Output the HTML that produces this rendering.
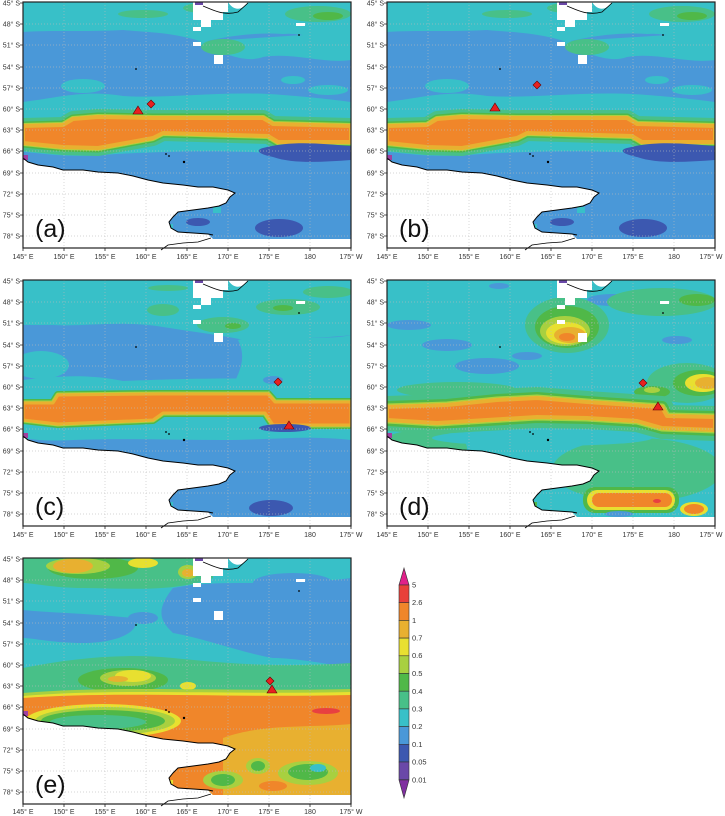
<!DOCTYPE html>
<html><head><meta charset="utf-8"><style>
html,body{margin:0;padding:0;background:#fff;}
svg{display:block;font-family:"Liberation Sans",sans-serif;}
.lat{font-size:7px;fill:#333;text-anchor:end;}
.lon{font-size:7px;fill:#333;text-anchor:middle;}
.let{font-size:25px;fill:#111;}
.cb{font-size:7.5px;fill:#333;}
</style></head><body>
<svg width="725" height="816" viewBox="0 0 725 816" xmlns="http://www.w3.org/2000/svg">
<defs>
<clipPath id="sea"><path d="M0,0 H328 V237 H190 L185,232 L170,231 L155,230 L148,226 L146,220 L150,215 L155,210 L170,208 L185,206 L196,204 L203,201 L207,195 L212,191 L205,188 L190,185 L175,185 L160,183 L140,181 L125,178 L110,174 L95,171 L75,170 L60,168 L40,168 L30,165 L15,163 L5,160 L0,156 Z"/></clipPath>
<polygon id="bandA" points="0,124 40,123 50,117 75,115 130,116 240,116 250,122 328,124 328,140 255,140 245,134 140,131 130,136 75,146 40,145 0,141"/>
<polygon id="bandC" points="0,123 30,123 35,115 135,114 245,114 252,122 328,122 328,145 250,145 242,133 140,133 130,140 35,144 0,140"/>
<polygon id="bandD" points="0,127 60,125 110,120 150,118 200,122 245,125 275,127 280,136 328,137 328,150 275,148 250,141 200,138 150,137 100,140 50,143 0,140"/>
<g id="grid" stroke="#bbb" stroke-width="0.7" stroke-dasharray="1,2" opacity="0.8">
<path d="M41,0V246M82,0V246M123,0V246M164,0V246M205,0V246M246,0V246M287,0V246M0,22H328M0,43H328M0,65H328M0,86H328M0,107H328M0,128H328M0,149H328M0,171H328M0,192H328M0,213H328M0,234H328"/>
</g>
<g id="over">
<path d="M170,0 H205 C210,8 218,10 225,0 H220 Z M170,0 V18 H178 V25 H188 V18 H200 V10 H205 V0 Z" fill="#fff"/>
<path d="M172,0 h8 v3 h-8z" fill="#6a48a8"/>
<rect x="170" y="25" width="8" height="4" fill="#fff"/>
<rect x="170" y="40" width="8" height="4" fill="#fff"/>
<rect x="191" y="53" width="9" height="9" fill="#fff"/>
<rect x="273" y="21" width="9" height="3" fill="#fff"/>
<rect x="0" y="153" width="5" height="5" fill="#a040a0"/>
<path d="M180,4 C190,8 200,14 215,10 L225,1" fill="none" stroke="#000" stroke-width="0.8"/>
<polyline fill="none" stroke="#000" stroke-width="1" points="0,156 5,160 15,163 30,165 40,168 60,168 75,170 95,171 110,174 125,178 140,181 160,183 175,185 190,185 205,188 212,191 207,195 203,201 196,204 185,206 170,208 155,210 150,215 146,220 148,226 155,230 170,231 185,232 190,233"/>
<polyline fill="none" stroke="#000" stroke-width="0.8" points="138,248 145,243 160,241 175,240 188,236"/>
<circle cx="113" cy="67" r="0.9" fill="#000"/><circle cx="276" cy="33" r="0.9" fill="#000"/>
<circle cx="143" cy="152" r="0.9" fill="#000"/><circle cx="146" cy="154" r="0.9" fill="#000"/><circle cx="161" cy="160" r="1.2" fill="#000"/>
<rect x="0" y="0" width="328" height="246" fill="none" stroke="#222" stroke-width="1.2"/>
<path d="M0,246v3M41,246v3M82,246v3M123,246v3M164,246v3M205,246v3M246,246v3M287,246v3M328,246v3M0,1h-3M0,22h-3M0,43h-3M0,65h-3M0,86h-3M0,107h-3M0,128h-3M0,149h-3M0,171h-3M0,192h-3M0,213h-3M0,234h-3" stroke="#222" stroke-width="0.8"/>
</g>
<g id="fieldAB">
<rect width="328" height="246" fill="#4a98d8"/>
<path d="M0,0 H328 V35 C300,40 280,30 260,32 C230,30 200,35 180,40 C150,30 120,30 100,28 C60,30 30,28 0,30 Z" fill="#38c0c8"/>
<path d="M170,40 C200,50 220,62 240,55 C270,50 300,62 328,58 V30 Z" fill="#38c0c8"/>
<ellipse cx="180" cy="6" rx="20" ry="5" fill="#48c088"/>
<ellipse cx="295" cy="12" rx="33" ry="8" fill="#48c088"/>
<ellipse cx="305" cy="14" rx="15" ry="4" fill="#50b848"/>
<ellipse cx="200" cy="45" rx="22" ry="8" fill="#48c088"/>
<ellipse cx="120" cy="12" rx="25" ry="4" fill="#48c088"/>
<ellipse cx="60" cy="84" rx="22" ry="7" fill="#38c0c8"/>
<ellipse cx="270" cy="78" rx="12" ry="4" fill="#38c0c8"/>
<ellipse cx="305" cy="88" rx="20" ry="5" fill="#38c0c8"/>
<path d="M0,100 C40,95 60,88 100,94 C150,97 200,88 260,93 C300,96 328,100 328,100 V155 C300,160 260,152 230,150 C180,148 120,150 80,153 C40,156 10,150 0,150 Z" fill="#38c0c8"/>
<use href="#bandA" fill="#48c088" stroke="#48c088" stroke-width="16" stroke-linejoin="round"/>
<use href="#bandA" fill="#50b848" stroke="#50b848" stroke-width="9" stroke-linejoin="round"/>
<use href="#bandA" fill="#a8d040" stroke="#a8d040" stroke-width="6" stroke-linejoin="round"/>
<use href="#bandA" fill="#e8e030" stroke="#e8e030" stroke-width="4" stroke-linejoin="round"/>
<use href="#bandA" fill="#f0862a" stroke="#e8b030" stroke-width="4" stroke-linejoin="round"/>
<path d="M240,146 C270,138 300,142 328,144 V158 C300,160 270,162 250,155 C235,152 232,148 240,146 Z" fill="#3c58b0"/>
<ellipse cx="256" cy="226" rx="24" ry="9" fill="#3c58b0"/>
<ellipse cx="175" cy="220" rx="12" ry="4" fill="#3c58b0"/>
<rect x="140" y="222" width="10" height="12" fill="#38c0c8"/>
<rect x="190" y="205" width="8" height="6" fill="#38c0c8"/>
</g>
<g id="latlon">
<text class="lat" x="-3" y="3.5">45° S</text><text class="lat" x="-3" y="24.5">48° S</text><text class="lat" x="-3" y="45.5">51° S</text><text class="lat" x="-3" y="67.5">54° S</text><text class="lat" x="-3" y="88.5">57° S</text><text class="lat" x="-3" y="109.5">60° S</text><text class="lat" x="-3" y="130.5">63° S</text><text class="lat" x="-3" y="151.5">66° S</text><text class="lat" x="-3" y="173.5">69° S</text><text class="lat" x="-3" y="194.5">72° S</text><text class="lat" x="-3" y="215.5">75° S</text><text class="lat" x="-3" y="236.5">78° S</text>
</g>
</defs>

<!-- Panel a -->
<g transform="translate(23,2)">
<rect width="328" height="246" fill="#fff"/>
<g clip-path="url(#sea)"><use href="#fieldAB"/></g>
<use href="#grid"/><use href="#over"/>
<polygon points="128,98 132,102 128,106 124,102" fill="#e82020" stroke="#600" stroke-width="0.6"/>
<polygon points="115,104 120,112 110,112" fill="#e82020" stroke="#600" stroke-width="0.6"/>
<text class="let" x="12" y="235">(a)</text>
</g>
<!-- Panel b -->
<g transform="translate(387,2)">
<rect width="328" height="246" fill="#fff"/>
<g clip-path="url(#sea)"><use href="#fieldAB"/></g>
<use href="#grid"/><use href="#over"/>
<polygon points="150,79 154,83 150,87 146,83" fill="#e82020" stroke="#600" stroke-width="0.6"/>
<polygon points="108,101 113,109 103,109" fill="#e82020" stroke="#600" stroke-width="0.6"/>
<text class="let" x="12" y="235">(b)</text>
</g>
<!-- Panel c -->
<g transform="translate(23,280)">
<rect width="328" height="246" fill="#fff"/>
<g clip-path="url(#sea)">
<rect width="328" height="246" fill="#4a98d8"/>
<path d="M0,0 H328 V55 C290,60 260,55 230,62 C200,55 170,52 140,47 C100,40 60,47 30,45 C15,45 0,45 0,45 Z" fill="#38c0c8"/>
<path d="M215,60 C240,52 300,62 328,55 V115 H205 C215,95 225,80 215,60 Z" fill="#38c0c8"/>
<ellipse cx="18" cy="85" rx="28" ry="14" fill="#38c0c8"/>
<path d="M0,100 C30,97 60,93 100,101 C150,99 200,97 328,100 V160 C280,155 250,160 200,160 C150,160 100,158 50,160 C20,162 0,158 0,158 Z" fill="#38c0c8"/>
<ellipse cx="140" cy="30" rx="16" ry="6" fill="#48c088"/>
<ellipse cx="200" cy="45" rx="26" ry="8" fill="#48c088"/>
<ellipse cx="210" cy="46" rx="8" ry="3" fill="#50b848"/>
<ellipse cx="265" cy="27" rx="32" ry="8" fill="#48c088"/>
<ellipse cx="260" cy="28" rx="10" ry="3" fill="#50b848"/>
<ellipse cx="305" cy="12" rx="25" ry="6" fill="#48c088"/>
<ellipse cx="145" cy="8" rx="20" ry="3" fill="#48c088"/>
<ellipse cx="250" cy="100" rx="10" ry="4" fill="#4a98d8"/>
<use href="#bandC" fill="#50b848" stroke="#50b848" stroke-width="8" stroke-linejoin="round"/>
<use href="#bandC" fill="#a8d040" stroke="#a8d040" stroke-width="5" stroke-linejoin="round"/>
<use href="#bandC" fill="#e8e030" stroke="#e8e030" stroke-width="3" stroke-linejoin="round"/>
<use href="#bandC" fill="#f0862a" stroke="#e8b030" stroke-width="3" stroke-linejoin="round"/>
<ellipse cx="262" cy="148" rx="26" ry="4" fill="#3c58b0"/>
<ellipse cx="248" cy="228" rx="22" ry="8" fill="#3c58b0"/>
<rect x="140" y="222" width="10" height="12" fill="#38c0c8"/>
</g>
<use href="#grid"/><use href="#over"/>
<polygon points="255,98 259,102 255,106 251,102" fill="#e82020" stroke="#600" stroke-width="0.6"/>
<polygon points="266,141 271,149 261,149" fill="#e82020" stroke="#600" stroke-width="0.6"/>
<text class="let" x="12" y="235">(c)</text>
</g>
<!-- Panel d -->
<g transform="translate(387,280)">
<rect width="328" height="246" fill="#fff"/>
<g clip-path="url(#sea)">
<rect width="328" height="246" fill="#38c0c8"/>
<ellipse cx="60" cy="65" rx="25" ry="6" fill="#4a98d8"/>
<ellipse cx="100" cy="86" rx="32" ry="8" fill="#4a98d8"/>
<ellipse cx="225" cy="20" rx="25" ry="6" fill="#4a98d8"/>
<ellipse cx="22" cy="45" rx="22" ry="5" fill="#4a98d8"/>
<ellipse cx="140" cy="76" rx="15" ry="4" fill="#4a98d8"/>
<ellipse cx="290" cy="60" rx="15" ry="4" fill="#4a98d8"/>
<ellipse cx="112" cy="6" rx="10" ry="3" fill="#4a98d8"/>
<ellipse cx="275" cy="22" rx="55" ry="14" fill="#48c088"/>
<ellipse cx="310" cy="20" rx="18" ry="6" fill="#50b848"/>
<ellipse cx="250" cy="190" rx="85" ry="32" fill="#48c088"/>
<ellipse cx="35" cy="168" rx="45" ry="18" fill="#48c088"/>
<ellipse cx="70" cy="110" rx="60" ry="8" fill="#48c088"/>
<ellipse cx="180" cy="45" rx="42" ry="28" fill="#48c088"/>
<ellipse cx="180" cy="47" rx="32" ry="21" fill="#50b848"/>
<ellipse cx="178" cy="51" rx="25" ry="15" fill="#a8d040"/>
<ellipse cx="179" cy="53" rx="20" ry="11" fill="#e8e030"/>
<ellipse cx="183" cy="55" rx="16" ry="8" fill="#e8b030"/>
<ellipse cx="180" cy="57" rx="8" ry="4" fill="#f0862a"/>
<ellipse cx="300" cy="103" rx="40" ry="20" fill="#48c088"/>
<ellipse cx="312" cy="103" rx="26" ry="13" fill="#50b848"/>
<ellipse cx="316" cy="103" rx="18" ry="9" fill="#e8e030"/>
<ellipse cx="320" cy="103" rx="12" ry="6" fill="#e8b030"/>
<ellipse cx="265" cy="112" rx="18" ry="6" fill="#50b848"/>
<ellipse cx="265" cy="110" rx="8" ry="3" fill="#a8d040"/>
<ellipse cx="70" cy="118" rx="15" ry="3" fill="#e8e030"/>
<use href="#bandD" fill="#48c088" stroke="#48c088" stroke-width="22" stroke-linejoin="round"/>
<use href="#bandD" fill="#50b848" stroke="#50b848" stroke-width="12" stroke-linejoin="round"/>
<use href="#bandD" fill="#a8d040" stroke="#a8d040" stroke-width="7" stroke-linejoin="round"/>
<use href="#bandD" fill="#e8e030" stroke="#e8e030" stroke-width="4" stroke-linejoin="round"/>
<use href="#bandD" fill="#f0862a" stroke="#e8b030" stroke-width="4" stroke-linejoin="round"/>
<ellipse cx="155" cy="158" rx="110" ry="8" fill="#38c0c8"/>
<rect x="196" y="207" width="96" height="26" rx="12" fill="#50b848"/>
<rect x="200" y="210" width="88" height="20" rx="10" fill="#e8e030"/>
<rect x="205" y="213" width="80" height="14" rx="7" fill="#f0862a"/>
<ellipse cx="270" cy="221" rx="4" ry="2" fill="#e84040"/>
<ellipse cx="307" cy="229" rx="14" ry="7" fill="#e8e030"/>
<ellipse cx="307" cy="229" rx="10" ry="5" fill="#f0862a"/>
<ellipse cx="232" cy="234" rx="14" ry="3" fill="#4a98d8"/>
<rect x="140" y="222" width="10" height="12" fill="#50b848"/>
</g>
<use href="#grid"/><use href="#over"/>
<polygon points="256,99 260,103 256,107 252,103" fill="#e82020" stroke="#600" stroke-width="0.6"/>
<polygon points="271,122 276,130 266,130" fill="#e82020" stroke="#600" stroke-width="0.6"/>
<text class="let" x="12" y="235">(d)</text>
</g>
<!-- Panel e -->
<g transform="translate(23,558)">
<rect width="328" height="246" fill="#fff"/>
<g clip-path="url(#sea)">
<rect width="328" height="246" fill="#38c0c8"/>
<path d="M150,30 C200,20 250,30 328,20 V110 C300,105 270,100 250,100 C220,95 180,80 150,75 C140,65 130,55 150,30 Z" fill="#4a98d8"/>
<ellipse cx="270" cy="25" rx="40" ry="10" fill="#4a98d8"/>
<path d="M0,52 C30,55 60,55 110,60 C120,70 100,85 60,85 C30,85 10,80 0,80 Z" fill="#4a98d8"/>
<ellipse cx="120" cy="60" rx="15" ry="6" fill="#4a98d8"/>
<path d="M0,0 H190 V20 C150,35 100,30 60,30 C30,30 10,25 0,25 Z" fill="#48c088"/>
<ellipse cx="70" cy="10" rx="45" ry="11" fill="#50b848"/>
<ellipse cx="55" cy="8" rx="32" ry="8" fill="#a8d040"/>
<ellipse cx="50" cy="8" rx="20" ry="7" fill="#e8b030"/>
<ellipse cx="120" cy="5" rx="15" ry="5" fill="#e8e030"/>
<ellipse cx="165" cy="14" rx="10" ry="7" fill="#a8d040"/>
<ellipse cx="165" cy="15" rx="6" ry="4" fill="#e8b030"/>
<path d="M0,110 C50,100 100,95 150,100 C200,105 250,110 328,105 V145 H0 Z" fill="#48c088"/>
<ellipse cx="100" cy="122" rx="45" ry="12" fill="#50b848"/>
<ellipse cx="105" cy="120" rx="28" ry="8" fill="#a8d040"/>
<ellipse cx="110" cy="118" rx="18" ry="6" fill="#e8e030"/>
<ellipse cx="95" cy="121" rx="10" ry="3" fill="#e8b030"/>
<ellipse cx="165" cy="128" rx="8" ry="4" fill="#e8e030"/>
<path d="M0,135 C100,127 200,134 328,131 V237 H0 Z" fill="#a8d040"/>
<path d="M0,138 C100,130 200,137 328,134 V237 H0 Z" fill="#e8e030"/>
<path d="M0,140 C100,133 200,140 328,137 V237 H0 Z" fill="#f0862a"/>
<path d="M200,180 C240,165 290,170 328,166 V237 H200 Z" fill="#e8b030"/>
<ellipse cx="80" cy="163" rx="78" ry="17" fill="#e8e030"/>
<ellipse cx="82" cy="163" rx="70" ry="14" fill="#a8d040"/>
<ellipse cx="80" cy="163" rx="62" ry="11" fill="#50b848"/>
<ellipse cx="75" cy="164" rx="48" ry="7" fill="#48c088"/>
<ellipse cx="303" cy="153" rx="14" ry="3" fill="#e84040"/>
<ellipse cx="235" cy="208" rx="12" ry="8" fill="#a8d040"/>
<ellipse cx="235" cy="208" rx="7" ry="5" fill="#50b848"/>
<ellipse cx="200" cy="222" rx="20" ry="9" fill="#a8d040"/>
<ellipse cx="200" cy="222" rx="12" ry="6" fill="#50b848"/>
<ellipse cx="285" cy="215" rx="30" ry="12" fill="#a8d040"/>
<ellipse cx="285" cy="214" rx="20" ry="8" fill="#50b848"/>
<ellipse cx="295" cy="210" rx="8" ry="4" fill="#38c0c8"/>
<ellipse cx="250" cy="228" rx="14" ry="5" fill="#f0862a"/>
<rect x="140" y="222" width="10" height="12" fill="#e8e030"/>
</g>
<use href="#grid"/><use href="#over"/>
<polygon points="247,119 251,123 247,127 243,123" fill="#e82020" stroke="#600" stroke-width="0.6"/>
<polygon points="249,127 254,135 244,135" fill="#e82020" stroke="#600" stroke-width="0.6"/>
<text class="let" x="12" y="235">(e)</text>
</g>

<!-- Labels for all panels -->
<g transform="translate(23,2)">
<text class="lat" x="-3" y="3.5">45° S</text><text class="lat" x="-3" y="24.5">48° S</text><text class="lat" x="-3" y="45.5">51° S</text><text class="lat" x="-3" y="67.5">54° S</text><text class="lat" x="-3" y="88.5">57° S</text><text class="lat" x="-3" y="109.5">60° S</text><text class="lat" x="-3" y="130.5">63° S</text><text class="lat" x="-3" y="151.5">66° S</text><text class="lat" x="-3" y="173.5">69° S</text><text class="lat" x="-3" y="194.5">72° S</text><text class="lat" x="-3" y="215.5">75° S</text><text class="lat" x="-3" y="236.5">78° S</text>
<text class="lon" x="0" y="257">145° E</text><text class="lon" x="41" y="257">150° E</text><text class="lon" x="82" y="257">155° E</text><text class="lon" x="123" y="257">160° E</text><text class="lon" x="164" y="257">165° E</text><text class="lon" x="205" y="257">170° E</text><text class="lon" x="246" y="257">175° E</text><text class="lon" x="287" y="257">180</text><text class="lon" x="328" y="257">175° W</text>
</g>
<g transform="translate(387,2)">
<text class="lat" x="-3" y="3.5">45° S</text><text class="lat" x="-3" y="24.5">48° S</text><text class="lat" x="-3" y="45.5">51° S</text><text class="lat" x="-3" y="67.5">54° S</text><text class="lat" x="-3" y="88.5">57° S</text><text class="lat" x="-3" y="109.5">60° S</text><text class="lat" x="-3" y="130.5">63° S</text><text class="lat" x="-3" y="151.5">66° S</text><text class="lat" x="-3" y="173.5">69° S</text><text class="lat" x="-3" y="194.5">72° S</text><text class="lat" x="-3" y="215.5">75° S</text><text class="lat" x="-3" y="236.5">78° S</text>
<text class="lon" x="0" y="257">145° E</text><text class="lon" x="41" y="257">150° E</text><text class="lon" x="82" y="257">155° E</text><text class="lon" x="123" y="257">160° E</text><text class="lon" x="164" y="257">165° E</text><text class="lon" x="205" y="257">170° E</text><text class="lon" x="246" y="257">175° E</text><text class="lon" x="287" y="257">180</text><text class="lon" x="324" y="257">175° W</text>
</g>
<g transform="translate(23,280)">
<text class="lat" x="-3" y="3.5">45° S</text><text class="lat" x="-3" y="24.5">48° S</text><text class="lat" x="-3" y="45.5">51° S</text><text class="lat" x="-3" y="67.5">54° S</text><text class="lat" x="-3" y="88.5">57° S</text><text class="lat" x="-3" y="109.5">60° S</text><text class="lat" x="-3" y="130.5">63° S</text><text class="lat" x="-3" y="151.5">66° S</text><text class="lat" x="-3" y="173.5">69° S</text><text class="lat" x="-3" y="194.5">72° S</text><text class="lat" x="-3" y="215.5">75° S</text><text class="lat" x="-3" y="236.5">78° S</text>
<text class="lon" x="0" y="257">145° E</text><text class="lon" x="41" y="257">150° E</text><text class="lon" x="82" y="257">155° E</text><text class="lon" x="123" y="257">160° E</text><text class="lon" x="164" y="257">165° E</text><text class="lon" x="205" y="257">170° E</text><text class="lon" x="246" y="257">175° E</text><text class="lon" x="287" y="257">180</text><text class="lon" x="328" y="257">175° W</text>
</g>
<g transform="translate(387,280)">
<text class="lat" x="-3" y="3.5">45° S</text><text class="lat" x="-3" y="24.5">48° S</text><text class="lat" x="-3" y="45.5">51° S</text><text class="lat" x="-3" y="67.5">54° S</text><text class="lat" x="-3" y="88.5">57° S</text><text class="lat" x="-3" y="109.5">60° S</text><text class="lat" x="-3" y="130.5">63° S</text><text class="lat" x="-3" y="151.5">66° S</text><text class="lat" x="-3" y="173.5">69° S</text><text class="lat" x="-3" y="194.5">72° S</text><text class="lat" x="-3" y="215.5">75° S</text><text class="lat" x="-3" y="236.5">78° S</text>
<text class="lon" x="0" y="257">145° E</text><text class="lon" x="41" y="257">150° E</text><text class="lon" x="82" y="257">155° E</text><text class="lon" x="123" y="257">160° E</text><text class="lon" x="164" y="257">165° E</text><text class="lon" x="205" y="257">170° E</text><text class="lon" x="246" y="257">175° E</text><text class="lon" x="287" y="257">180</text><text class="lon" x="324" y="257">175° W</text>
</g>
<g transform="translate(23,558)">
<text class="lat" x="-3" y="3.5">45° S</text><text class="lat" x="-3" y="24.5">48° S</text><text class="lat" x="-3" y="45.5">51° S</text><text class="lat" x="-3" y="67.5">54° S</text><text class="lat" x="-3" y="88.5">57° S</text><text class="lat" x="-3" y="109.5">60° S</text><text class="lat" x="-3" y="130.5">63° S</text><text class="lat" x="-3" y="151.5">66° S</text><text class="lat" x="-3" y="173.5">69° S</text><text class="lat" x="-3" y="194.5">72° S</text><text class="lat" x="-3" y="215.5">75° S</text><text class="lat" x="-3" y="236.5">78° S</text>
<text class="lon" x="0" y="256">145° E</text><text class="lon" x="41" y="256">150° E</text><text class="lon" x="82" y="256">155° E</text><text class="lon" x="123" y="256">160° E</text><text class="lon" x="164" y="256">165° E</text><text class="lon" x="205" y="256">170° E</text><text class="lon" x="246" y="256">175° E</text><text class="lon" x="287" y="256">180</text><text class="lon" x="328" y="256">175° W</text>
</g>

<!-- Colorbar -->
<g stroke="#333" stroke-width="0.6">
<polygon points="399,585 404,568 409,585" fill="#e0208a"/>
<rect x="399" y="585.0" width="10" height="17.7" fill="#e8403a"/>
<rect x="399" y="602.7" width="10" height="17.7" fill="#f0862a"/>
<rect x="399" y="620.4" width="10" height="17.7" fill="#e8b030"/>
<rect x="399" y="638.1" width="10" height="17.7" fill="#e8e030"/>
<rect x="399" y="655.8" width="10" height="17.7" fill="#a8d040"/>
<rect x="399" y="673.5" width="10" height="17.7" fill="#50b848"/>
<rect x="399" y="691.2" width="10" height="17.7" fill="#48c088"/>
<rect x="399" y="708.9" width="10" height="17.7" fill="#38c0c8"/>
<rect x="399" y="726.6" width="10" height="17.7" fill="#4a98d8"/>
<rect x="399" y="744.3" width="10" height="17.7" fill="#3c58b0"/>
<rect x="399" y="762.0" width="10" height="17.7" fill="#6a48a8"/>
<polygon points="399,780 404,798 409,780" fill="#8030a0"/>
</g>
<g class="cb">
<text x="412" y="587.5">5</text><text x="412" y="605">2.6</text><text x="412" y="623">1</text><text x="412" y="640.5">0.7</text><text x="412" y="658">0.6</text><text x="412" y="676">0.5</text><text x="412" y="694">0.4</text><text x="412" y="711.5">0.3</text><text x="412" y="729">0.2</text><text x="412" y="747">0.1</text><text x="412" y="764.5">0.05</text><text x="412" y="782.5">0.01</text>
</g>
</svg>
</body></html>
